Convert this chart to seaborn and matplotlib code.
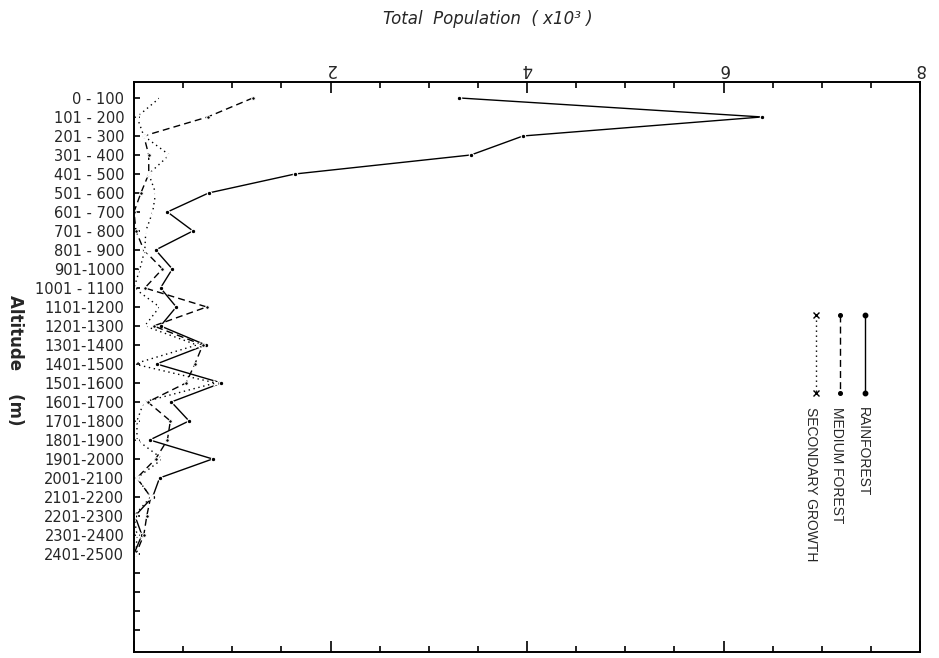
import matplotlib
matplotlib.use("Agg")
import matplotlib.pyplot as plt
from matplotlib.lines import Line2D
import numpy as np
import pandas as pd
import seaborn as sns

# Altitude bands (m) and total population (thousands) in each forest type
altitude_bands = [
    "0 - 100", "101 - 200", "201 - 300", "301 - 400", "401 - 500",
    "501 - 600", "601 - 700", "701 - 800", "801 - 900", "901-1000",
    "1001 - 1100", "1101-1200", "1201-1300", "1301-1400", "1401-1500",
    "1501-1600", "1601-1700", "1701-1800", "1801-1900", "1901-2000",
    "2001-2100", "2101-2200", "2201-2300", "2301-2400", "2401-2500",
]
rainforest = [3.31, 6.39, 3.96, 3.43, 1.64, 0.76, 0.34, 0.60, 0.22, 0.39,
              0.27, 0.43, 0.27, 0.73, 0.23, 0.89, 0.38, 0.56, 0.16, 0.80,
              0.26, 0.19, 0.01, 0.08, 0.00]
medium_forest = [1.21, 0.75, 0.10, 0.15, 0.15, 0.07, 0.00, 0.02, 0.10, 0.29,
                 0.11, 0.74, 0.20, 0.70, 0.62, 0.53, 0.14, 0.37, 0.34, 0.22,
                 0.03, 0.17, 0.13, 0.10, 0.02]
secondary_growth = [0.26, 0.03, 0.10, 0.36, 0.15, 0.22, 0.19, 0.12, 0.11, 0.06,
                    0.00, 0.26, 0.11, 0.64, 0.00, 0.83, 0.10, 0.03, 0.03, 0.29,
                    0.03, 0.17, 0.00, 0.03, 0.02]
series_names = ["RAINFOREST", "MEDIUM FOREST", "SECONDARY GROWTH"]
x_tick_labels = ["", "2", "4", "6", "8"]

sns.set_style("white")
plt.rcParams["font.family"] = ["DejaVu Sans"]

W, H = 939, 658
fig = plt.figure(figsize=(W / 100, H / 100), dpi=100)
ax_left, ax_right, ax_top, ax_bottom = 134, 920, 82, 652
ax = fig.add_axes([ax_left / W, 1 - ax_bottom / H,
                   (ax_right - ax_left) / W, (ax_bottom - ax_top) / H])

pos = np.arange(len(altitude_bands))
styles = {
    "RAINFOREST": dict(linestyle="-", marker="o", markersize=3.2),
    "MEDIUM FOREST": dict(linestyle=(0, (5, 3)), marker="o", markersize=2.6),
    "SECONDARY GROWTH": dict(linestyle=(0, (1, 2.6)), marker="x",
                             markersize=4, markeredgewidth=1.0),
}
for name, vals in zip(series_names, [rainforest, medium_forest, secondary_growth]):
    df = pd.DataFrame({"pop": vals, "pos": pos})
    sns.lineplot(data=df, x="pop", y="pos", sort=False, estimator=None,
                 color="black", linewidth=1.0, ax=ax, **styles[name])

ax.set_xlim(0, 8)
ax.set_ylim(29.16, -0.84)

# x axis: labels on top, upside down; ticks inward on top and bottom
ax.set_xticks([0, 2, 4, 6, 8])
ax.set_xticklabels(x_tick_labels)
ax.set_xticks(np.arange(0, 8.01, 0.5), minor=True)
ax.tick_params(axis="x", which="both", direction="in", top=True, bottom=True,
               labeltop=True, labelbottom=False, color="black", width=1.2)
ax.tick_params(axis="x", which="major", length=8, labelsize=12, pad=3,
               labelrotation=180)
ax.tick_params(axis="x", which="minor", length=4)

# y axis: altitude bands, a few extra empty ticks below
ax.set_yticks(np.arange(29))
ax.set_yticklabels(altitude_bands + [""] * 4)
ax.tick_params(axis="y", which="major", direction="in", left=True, right=False,
               length=4.5, width=1.2, labelsize=10.5, pad=7, color="black")

ax.set_xlabel("")
ax.set_ylabel("")
for sp in ax.spines.values():
    sp.set_visible(True)
    sp.set_color("black")
    sp.set_linewidth(1.4)

# axis titles
fig.text(488 / W, 1 - 19 / H, "Total  Population  ( x10\u00b3 )",
         ha="center", va="center", fontsize=12, style="italic")
fig.text(15 / W, 1 - 360 / H, "Altitude    (m)", ha="center", va="center",
         rotation=-90, fontsize=12, fontweight="bold")

# legend: vertical keys with rotated captions
def fx(px):
    return (px - ax_left) / (ax_right - ax_left)

def fy(py):
    return 1 - (py - ax_top) / (ax_bottom - ax_top)

key_x = [865, 840, 816]
text_x = [863, 837, 811]
for name, kx, tx in zip(series_names, key_x, text_x):
    st = styles[name]
    ln = Line2D([fx(kx), fx(kx)], [fy(315), fy(393)], transform=ax.transAxes,
                color="black", linewidth=1.0, linestyle=st["linestyle"],
                marker=st["marker"], markersize=st["markersize"],
                markeredgewidth=st.get("markeredgewidth", 1.0),
                markevery=[0, 1])
    ax.add_line(ln)
    ax.text(fx(tx), fy(407), name, transform=ax.transAxes, rotation=-90,
            ha="center", va="top", fontsize=10,
            family=["Liberation Sans", "DejaVu Sans"])

fig.savefig("out.png", dpi=100)
